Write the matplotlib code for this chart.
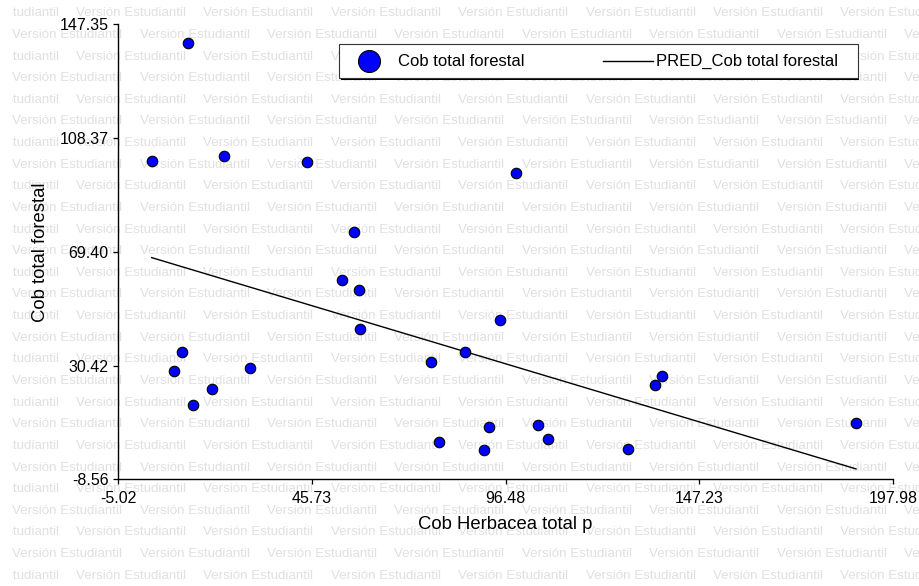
import numpy as np
import matplotlib
matplotlib.use("Agg")
import matplotlib.pyplot as plt
from matplotlib.patches import Rectangle

plt.rcParams['font.family'] = ['Liberation Sans', 'DejaVu Sans']

# scatter data: herb cover vs forest cover
cob_herbacea = [13.31, 3.80, 22.66, 44.39, 99.12, 56.77, 53.71, 58.01, 58.35,
                95.08, 85.76, 77.02, 11.66, 9.64, 29.47, 19.59, 14.62, 79.11,
                92.12, 90.82, 105.03, 107.57, 128.52, 135.51, 137.50, 188.22]
cob_forestal = [140.84, 100.61, 102.32, 100.16, 96.29, 76.17, 59.62, 56.19, 43.04,
                46.12, 35.15, 31.62, 35.15, 28.64, 29.46, 22.48, 16.89, 4.10,
                9.45, 1.46, 9.93, 5.13, 1.91, 23.74, 26.93, 10.61]

# predicted line (ends of the fitted line)
pred_x = [3.80, 188.22]
pred_y = [67.4, -5.0]

xticks = [-5.02, 45.73, 96.48, 147.23, 197.98]
yticks = [-8.56, 30.42, 69.40, 108.37, 147.35]

W, H = 920, 586
fig = plt.figure(figsize=(W / 100, H / 100), dpi=100, facecolor='white')

# background watermark layer, in pixel coords
bg = fig.add_axes([11.5 / W, 0, 1 - 11.5 / W, 1], zorder=0)
bg.set_xlim(11.5, W)
bg.set_ylim(H, 0)
bg.axis('off')
wm = "Versión Estudiantil"
period = 127.4
for row in range(27):
    y = 13.3 + row * 21.63
    x0 = 76.0 if row % 2 == 0 else 12.3
    x = x0 - period
    while x < W:
        bg.text(x, y, wm, fontsize=9.6, color='#e0e0e0', va='center', ha='left',
                clip_on=True)
        x += period

# main plot
ax = fig.add_axes([118 / W, 1 - 479.3 / H, (893.3 - 118) / W, (479.3 - 24.3) / H], zorder=2)
ax.set_facecolor('none')
ax.scatter(cob_herbacea, cob_forestal, s=57, c='#0000ff', edgecolors='black',
           linewidths=0.8, zorder=3, clip_on=False)
ax.plot(pred_x, pred_y, color='black', lw=1.0, zorder=2)

ax.set_xlim(xticks[0], xticks[-1])
ax.set_ylim(yticks[0], yticks[-1])
ax.set_xticks(xticks)
ax.set_yticks(yticks)
ax.set_xticklabels([f"{v:.2f}" for v in xticks])
ax.set_yticklabels([f"{v:.2f}" for v in yticks])
ax.spines['top'].set_visible(False)
ax.spines['right'].set_visible(False)
for s in ('left', 'bottom'):
    ax.spines[s].set_linewidth(1.0)
ax.tick_params(axis='both', length=3.6, width=0.9, labelsize=11.5, colors='black')
ax.tick_params(axis='y', pad=3)
ax.tick_params(axis='x', pad=5)
ax.set_xlabel("Cob Herbacea total p", fontsize=13.3, labelpad=7)
ax.set_ylabel("Cob total forestal", fontsize=13.3, labelpad=8)

# legend box drawn by hand on a top layer
fg = fig.add_axes([0, 0, 1, 1], zorder=4)
fg.set_xlim(0, W)
fg.set_ylim(H, 0)
fg.axis('off')
fg.add_patch(Rectangle((340.8, 45.5), 518.4, 34.3, facecolor='black', edgecolor='none'))
fg.add_patch(Rectangle((339.3, 44.0), 518.4, 34.3, facecolor='white', edgecolor='#333333', lw=0.8))
fg.scatter([369.3], [61.0], s=250, c='#0000ff', edgecolors='black', linewidths=0.8)
fg.text(398.3, 61.0, "Cob total forestal", fontsize=12, va='center', ha='left')
fg.plot([603.3, 652.7], [60.5, 60.5], color='black', lw=1.0)
fg.text(655.7, 61.0, "PRED_Cob total forestal", fontsize=12, va='center', ha='left')

fig.savefig("out.png", dpi=100, facecolor='white')
